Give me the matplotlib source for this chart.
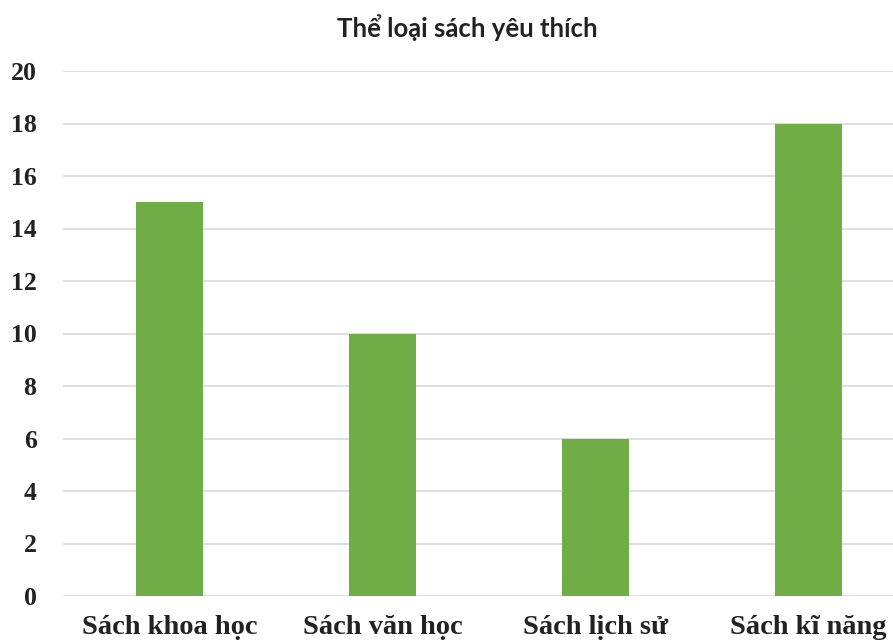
import matplotlib
matplotlib.use("Agg")
import matplotlib.pyplot as plt

categories = ["Sách khoa học", "Sách văn học", "Sách lịch sử", "Sách kĩ năng"]
values = [15, 10, 6, 18]
yticks = [0, 2, 4, 6, 8, 10, 12, 14, 16, 18, 20]

BAR_COLOR = "#70AD47"
GRID_COLOR = "#d9d9d9"

fig = plt.figure(figsize=(8.93, 6.43), dpi=100)
ax = fig.add_axes([63 / 893, 1 - 596 / 643, 852 / 893, 525 / 643])

x = range(len(categories))
ax.bar(x, values, width=0.315, color=BAR_COLOR, zorder=3)

ax.set_xlim(-0.5, len(categories) - 0.5)
ax.set_ylim(0, 20)
ax.set_yticks(yticks)
ax.set_xticks(list(x))
ax.set_xticklabels(categories)

for s in ax.spines.values():
    s.set_visible(False)
ax.grid(axis="y", color=GRID_COLOR, linewidth=1.2, zorder=0)
ax.tick_params(axis="both", length=0)
ax.tick_params(axis="y", pad=19)
ax.tick_params(axis="x", pad=14)

for lbl in ax.get_yticklabels():
    lbl.set_fontfamily("Liberation Serif")
    lbl.set_fontweight("bold")
    lbl.set_fontsize(18.5)
    lbl.set_color("#222222")
for lbl in ax.get_xticklabels():
    lbl.set_fontfamily("Liberation Serif")
    lbl.set_fontweight("bold")
    lbl.set_fontsize(20.5)
    lbl.set_color("#222222")

fig.text(467 / 893, 1 - 28 / 643, "Thể loại sách yêu thích", ha="center", va="center",
         fontfamily="Lato", fontweight="bold", fontsize=18.5, color="#222222")

fig.savefig("out.png", dpi=100)
